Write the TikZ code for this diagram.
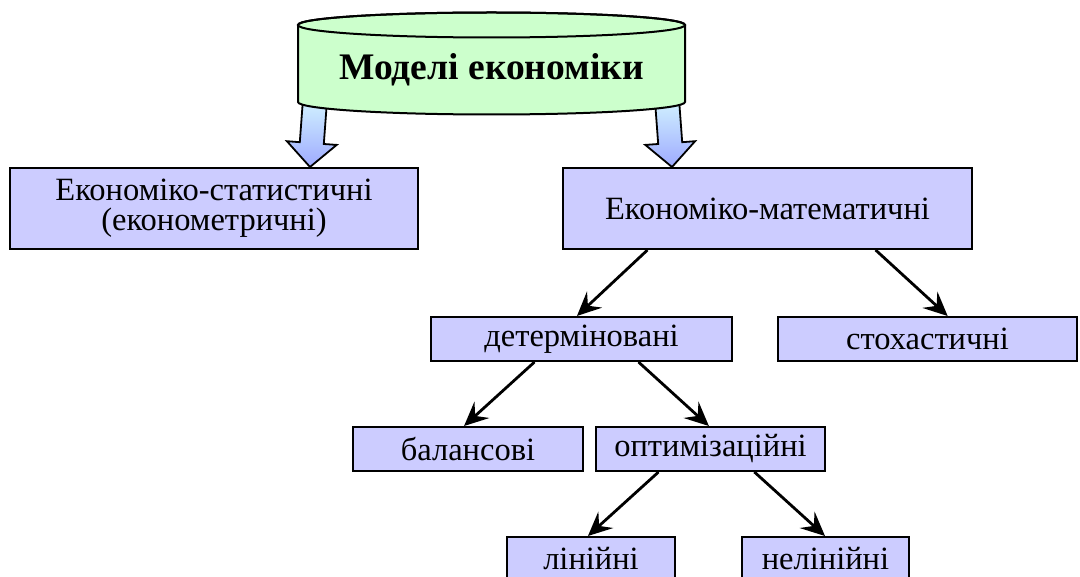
\documentclass[tikz,border=0pt]{standalone}
\usepackage{fontspec}
\setmainfont{Liberation Serif}
\usetikzlibrary{arrows.meta,calc}

\definecolor{boxfill}{RGB}{204,204,255}
\definecolor{cylfill}{RGB}{204,255,204}
\definecolor{blocktop}{RGB}{212,246,255}
\definecolor{blockbot}{RGB}{158,170,255}

\tikzset{
  box/.style={draw=black, line width=2pt, fill=boxfill, rectangle,
    inner sep=0pt, font=\fontsize{32.5}{30}\selectfont, align=center},
  link/.style={draw=black, line width=2.8pt,
    -{Stealth[length=24pt,width=22pt,inset=9pt]}},
  blockarrow/.style={draw=black, line width=1.8pt, line join=miter,
    top color=blocktop, bottom color=blockbot},
  cylbody/.style={draw=black, line width=2pt, fill=cylfill},
}

\begin{document}
\begin{tikzpicture}[x=1pt,y=-1pt]
  \useasboundingbox (0,0) rectangle (1080,577);
  \clip (0,0) rectangle (1080,577);

  % block arrows leaving the cylinder
  \path[blockarrow] (303.2,96.3) -- (327.2,98.1) -- (323.8,144.0) -- (336.7,144.9)
     -- (310,167) -- (286.9,141.2) -- (299.8,142.2) -- cycle;
  \path[blockarrow] (654.8,98.1) -- (678.8,96.3) -- (682.2,142.2) -- (695.1,141.2)
     -- (672,167) -- (645.3,144.9) -- (658.2,144.0) -- cycle;

  % cylinder "Моделі економіки" (y axis points down, so the lower rim runs 180 -> 0)
  \path[cylbody] (298,25) -- (298,102) arc[start angle=180, end angle=0, x radius=193.5, y radius=12.5]
     -- (685,25) arc[start angle=0, end angle=-180, x radius=193.5, y radius=12.5] -- cycle;
  \draw[line width=2pt] (491.5,25) ellipse[x radius=193.5, y radius=12.5];
  \node[font=\fontsize{37.5}{44}\selectfont\bfseries] (root) at (491.5,70) {Моделі економіки};

  % boxes
  \node[box, minimum width=408pt, minimum height=81pt] (stat) at (214,208.5)
     {Економіко-статистичні\\(економетричні)};
  \node[box, minimum width=409pt, minimum height=81pt] (math) at (767.5,208.5)
     {Економіко-математичні};
  \node[box, minimum width=301pt, minimum height=44pt] (det) at (581.5,339)
     {детерміновані};
  \node[box, minimum width=299pt, minimum height=44pt] (sto) at (927.5,339)
     {стохастичні};
  \node[box, minimum width=230pt, minimum height=44pt] (bal) at (468,449)
     {балансові};
  \node[box, minimum width=229pt, minimum height=44pt] (opt) at (710.5,449)
     {оптимізаційні};
  \node[box, minimum width=168pt, minimum height=44pt] (lin) at (591,559)
     {лінійні};
  \node[box, minimum width=167pt, minimum height=44pt] (nel) at (825.5,559)
     {нелінійні};

  % connectors
  \draw[link] ($(math.south west)!0.208!(math.south east)$) -- ($(det.north west)!0.485!(det.north east)$);
  \draw[link] ($(math.south west)!0.763!(math.south east)$) -- ($(sto.north west)!0.567!(sto.north east)$);
  \draw[link] ($(det.south west)!0.345!(det.south east)$) -- ($(bal.north west)!0.483!(bal.north east)$);
  \draw[link] ($(det.south west)!0.688!(det.south east)$) -- ($(opt.north west)!0.493!(opt.north east)$);
  \draw[link] ($(opt.south west)!0.275!(opt.south east)$) -- ($(lin.north west)!0.482!(lin.north east)$);
  \draw[link] ($(opt.south west)!0.69!(opt.south east)$) -- ($(nel.north west)!0.497!(nel.north east)$);
\end{tikzpicture}
\end{document}
